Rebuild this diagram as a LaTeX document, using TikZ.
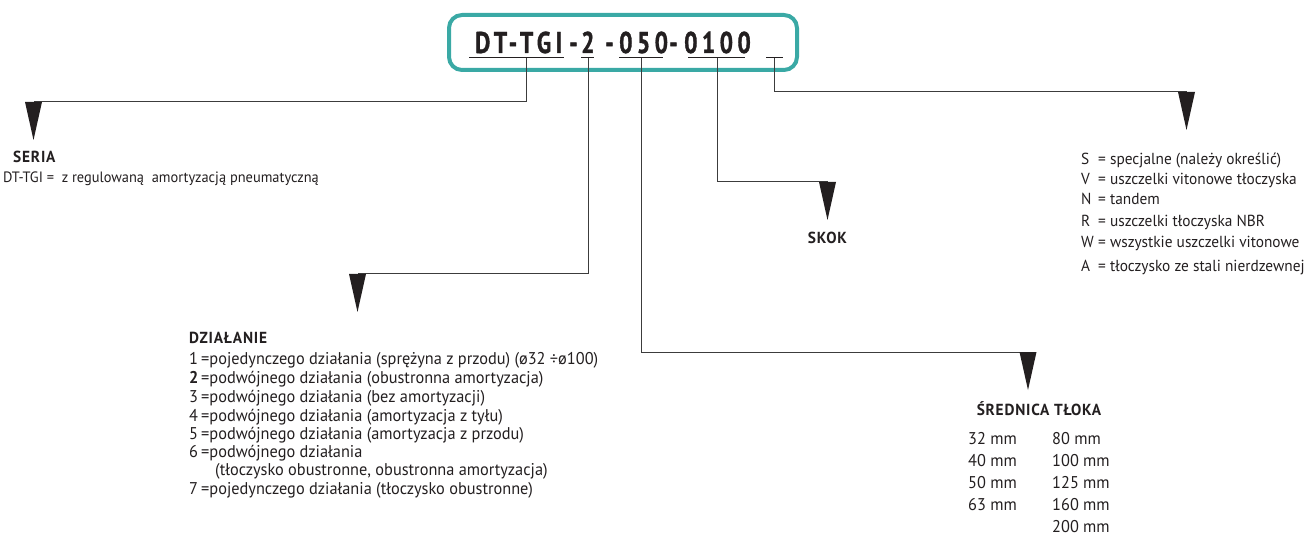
\documentclass[tikz,border=0pt]{standalone}
\usepackage{fontspec}
\setmainfont{PT Sans}[FakeStretch=0.96]
\newfontfamily\codefont{PT Sans}[FakeStretch=0.78, LetterSpace=15, BoldFeatures={FakeBold=1.2}]
\newfontfamily\headfont{PT Sans}[FakeStretch=0.96, LetterSpace=5]
\definecolor{ink}{HTML}{231F20}
\definecolor{wire}{HTML}{3C3C3C}
\definecolor{boxteal}{HTML}{3AA9A5}

\begin{document}
\begin{tikzpicture}[x = 1pt, y = -1pt,
    txt/.style = {anchor = base west, inner sep = 0pt, text = ink,
      font = \fontsize{17}{19}\selectfont},
    head/.style = {anchor = base west, inner sep = 0pt, text = ink,
      font = \headfont\bfseries\fontsize{16}{18}\selectfont},
    code/.style = {anchor = base west, inner sep = 0pt, text = ink,
      font = \codefont\bfseries\fontsize{30}{32}\selectfont},
    link/.style = {draw = wire, line width = 1pt},
    uline/.style = {draw = ink, line width = 1pt}]
  \useasboundingbox (0,0) rectangle (1312,537);

  % code box
  \draw [boxteal, line width = 4pt, rounded corners = 13pt] (449,15) rectangle (797,70);
  \node [code] (series) at (475,53) {DT-TGI};
  \node [code] (dashA)  at (569,53) {-};
  \node [code] (action) at (581,53) {2};
  \node [code] (dashB)  at (605,53) {-};
  \node [code] (bore)   at (619,53) {050};
  \node [code] (dashC)  at (669,53) {-};
  \node [code] (stroke) at (684,53) {0100};

  % underlines and their taps
  \draw [uline] (469,58) -- (564,58);
  \draw [uline] (581,58) -- (594,58);
  \draw [uline] (619,58) -- (663,58);
  \draw [uline] (688,58) -- (745,58);
  \draw [uline] (766,58) -- (783,58);
  \coordinate (j1) at (526,58);
  \coordinate (j2) at (588,58);
  \coordinate (j3) at (641,58);
  \coordinate (j4) at (717,58);
  \coordinate (j5) at (774,58);

  % pointer tips
  \coordinate (tSeria) at (33.5,102);
  \coordinate (tDzial) at (357.5,274);
  \coordinate (tSkok)  at (827.5,182);
  \coordinate (tSred)  at (1028,352);
  \coordinate (tOpc)   at (1186.5,92);

  \draw [link] (j1) |- (tSeria);
  \draw [link] (j2) |- (tDzial);
  \draw [link] (j3) |- (tSred);
  \draw [link] (j4) |- (tSkok);
  \draw [link] (j5) |- (tOpc);
  \foreach \t in {tSeria, tDzial, tSkok, tSred, tOpc}
    \fill [ink] (\t) ++(-8.5,0) -- ++(17,0) -- ++(-8.5,38) -- cycle;

  % seria
  \node [head] (seria) at (13,163) {SERIA};
  \node [txt, font = \fontsize{15}{17}\selectfont] (seriaDesc) at (3,183)
    {DT-TGI = \ z regulowaną \ amortyzacją pneumatyczną};

  % dzialanie
  \node [head] (dzial) at (189,344) {DZIAŁANIE};
  \foreach \n/\t/\y in {
      1/{pojedynczego działania (sprężyna z przodu) (ø32 ÷ø100)}/364,
      \textbf{2}/{podwójnego działania (obustronna amortyzacja)}/383,
      3/{podwójnego działania (bez amortyzacji)}/402,
      4/{podwójnego działania (amortyzacja z tyłu)}/421,
      5/{podwójnego działania (amortyzacja z przodu)}/439,
      6/{podwójnego działania}/457,
      7/{pojedynczego działania (tłoczysko obustronne)}/494}
    \node [txt] (dzial\y) at (189,\y) {\makebox[12pt][l]{\n}=\t};
  \node [txt] (dzial6b) at (215,475) {(tłoczysko obustronne, obustronna amortyzacja)};

  % skok
  \node [head, anchor = base] (skok) at (827.5,244) {SKOK};

  % srednica
  \node [head, anchor = base] (sred) at (1039,415) {ŚREDNICA TŁOKA};
  \foreach \a/\y in {32/444, 40/466, 50/488, 63/510}
    \node [txt] (srA\a) at (968,\y) {\a{} mm};
  \foreach \b/\y in {80/444, 100/466, 125/488, 160/510, 200/532}
    \node [txt] (srB\b) at (1052,\y) {\b{} mm};

  % opcje
  \foreach \k/\t/\y in {
      S/{specjalne (należy określić)}/165,
      V/{uszczelki vitonowe tłoczyska}/185,
      N/{tandem}/205,
      R/{uszczelki tłoczyska NBR}/227,
      W/{wszystkie uszczelki vitonowe}/248,
      A/{tłoczysko ze stali nierdzewnej}/272}
    \node [txt, font = \fontsize{16}{18}\selectfont] (opc\k) at (1081,\y)
      {\makebox[17pt][l]{\k}= \t};
\end{tikzpicture}
\end{document}
